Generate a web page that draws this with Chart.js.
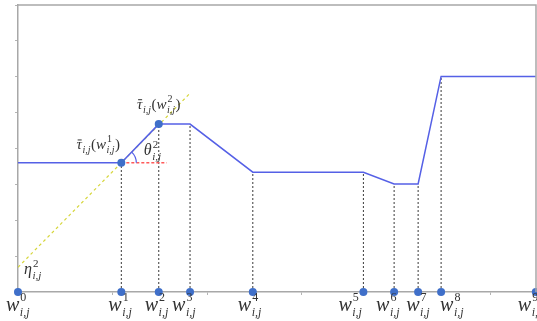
<!DOCTYPE html>
<html>
<head>
<meta charset="utf-8">
<script src="https://cdn.jsdelivr.net/npm/chart.js@4.4.0/dist/chart.umd.min.js"></script>
<style>
  html, body { margin: 0; padding: 0; background: #fff; overflow: hidden; }
  canvas { display: block; }
</style>
</head>
<body>
<canvas id="chart" width="540" height="321"></canvas>
<script>
"use strict";

// breakpoints w^0 .. w^9 along the x axis
const breakX = [0, 1.093, 1.489, 1.82, 2.484, 3.654, 3.979, 4.233, 4.476, 5.478];
// tau bar value at each breakpoint (piecewise linear)
const tauY = [3.6, 3.6, 4.68, 4.68, 3.34, 3.34, 3.01, 3.01, 6.01, 6.01];
// breakpoints that get a dashed drop line
const dropIdx = [1, 2, 3, 4, 5, 6, 7, 8];
// breakpoints marked on the curve itself
const curveIdx = [1, 2];
// yellow slope line (eta intercept at x = 0)
const slopeX = [0, 1.82];
const slopeY = [0.69, 5.54];
// red horizontal reference at w^1
const levelX = [1.093, 1.573];
const levelY = [3.6, 3.6];
// axis ranges
const xMax = 5.48;
const yMax = 8;

const serif = '"Liberation Serif", "DejaVu Serif", serif';
const blue = "#5560e6";
const dotBlue = "#3f6fc9";
// left edge of each w label relative to its marker (px), hand placed like the figure
const labelShift = [-12, -13, -14, -18, -15, -25, -18, -12, -1, -18];

function pts(xs, ys) {
  const out = [];
  for (let i = 0; i < xs.length; i++) out.push({ x: xs[i], y: ys[i] });
  return out;
}

// draws base with superscript / subscript, returns the width used
function sym(ctx, base, sup, sub, x, y, size, draw, bar, sc) {
  sc = sc || 0.66;
  ctx.font = "italic " + size + "px " + serif;
  const bw = ctx.measureText(base).width;
  if (draw) {
    ctx.fillText(base, x, y);
    if (bar) ctx.fillRect(x + bw * 0.2, y - size * 0.66, bw * 0.75, 1);
  }
  const s = Math.round(size * sc);
  let supW = 0, subW = 0;
  if (sup) {
    ctx.font = s + "px " + serif;
    supW = ctx.measureText(sup).width;
    if (draw) ctx.fillText(sup, x + bw + 1, y - size * 0.48);
  }
  if (sub) {
    ctx.font = "italic " + s + "px " + serif;
    subW = ctx.measureText(sub).width;
    if (draw) ctx.fillText(sub, x + bw + 0.5, y + size * 0.27);
  }
  return bw + Math.max(supW, subW) + 1;
}

function upright(ctx, t, x, y, size, draw) {
  ctx.font = size + "px " + serif;
  if (draw) ctx.fillText(t, x, y);
  return ctx.measureText(t).width;
}

function tauLabel(ctx, k, x, y, size, draw) {
  let cx = x;
  cx += sym(ctx, "\u03C4", null, "i,j", cx, y, size, draw, true);
  cx += upright(ctx, "(", cx, y, size, draw);
  cx += sym(ctx, "w", String(k), "i,j", cx, y, size, draw);
  cx += upright(ctx, ")", cx, y, size, draw);
  return cx - x;
}

function centered(ctx, fn, cx) {
  const w = fn(0, false);
  fn(cx - w / 2, true);
}

const mathText = {
  id: "mathText",
  afterDatasetsDraw(chart) {
    const ctx = chart.ctx;
    const xs = chart.scales.x;
    const ys = chart.scales.y;
    const area = chart.chartArea;
    ctx.save();
    // top and right frame
    ctx.strokeStyle = "#a8a8a8";
    ctx.lineWidth = 1.5;
    ctx.beginPath();
    ctx.moveTo(area.left, area.top);
    ctx.lineTo(area.right, area.top);
    ctx.lineTo(area.right, area.bottom);
    ctx.stroke();

    // angle arc at w^1
    const px = xs.getPixelForValue(breakX[1]);
    const py = ys.getPixelForValue(tauY[1]);
    const ang = Math.atan2(ys.getPixelForValue(tauY[2]) - py, xs.getPixelForValue(breakX[2]) - px);
    ctx.strokeStyle = blue;
    ctx.lineWidth = 1.2;
    ctx.beginPath();
    ctx.arc(px, py, 15, ang, 0);
    ctx.stroke();

    ctx.fillStyle = "#333333";
    ctx.textBaseline = "alphabetic";
    ctx.textAlign = "left";

    // breakpoint labels under the axis
    for (let k = 0; k < breakX.length; k++) {
      const bx = xs.getPixelForValue(breakX[k]);
      sym(ctx, "w", String(k), "i,j", bx + labelShift[k], 311, 20, true, false, 0.6);
    }

    // tau labels at w^1 and w^2
    const l1x = px - 23;
    const l1y = py - 13.5;
    centered(ctx, (x, d) => tauLabel(ctx, 1, x, l1y, 15, d), l1x);
    const l2x = xs.getPixelForValue(breakX[2]);
    const l2y = ys.getPixelForValue(tauY[2]) - 15;
    centered(ctx, (x, d) => tauLabel(ctx, 2, x, l2y, 15, d), l2x);

    // theta and eta
    sym(ctx, "\u03B8", "2", "i,j", px + 22.5, py - 7.5, 16, true);
    const ex = xs.getPixelForValue(slopeX[0]) + 6;
    const ey = ys.getPixelForValue(slopeY[0]) + 7;
    sym(ctx, "\u03B7", "2", "i,j", ex, ey, 16, true);
    ctx.restore();
  }
};

const datasets = [];
// markers on the axis
datasets.push({
  data: pts(breakX, breakX.map(() => 0)),
  showLine: false,
  pointRadius: 4,
  pointBackgroundColor: dotBlue,
  pointBorderWidth: 0,
  clip: false,
  order: 0
});
// markers on the curve
datasets.push({
  data: curveIdx.map(k => ({ x: breakX[k], y: tauY[k] })),
  showLine: false,
  pointRadius: 4,
  pointBackgroundColor: dotBlue,
  pointBorderWidth: 0,
  order: 0
});
// piecewise curve
datasets.push({
  data: pts(breakX, tauY),
  showLine: true,
  borderColor: blue,
  borderWidth: 1.5,
  pointRadius: 0,
  order: 2
});
// yellow slope
datasets.push({
  data: pts(slopeX, slopeY),
  showLine: true,
  borderColor: "#d6d63a",
  borderWidth: 1.2,
  borderDash: [3, 3],
  pointRadius: 0,
  order: 3
});
// red level
datasets.push({
  data: pts(levelX, levelY),
  showLine: true,
  borderColor: "#ff5a5a",
  borderWidth: 1.5,
  borderDash: [3, 2],
  pointRadius: 0,
  order: 3
});
// dashed drop lines
for (let i = 0; i < dropIdx.length; i++) {
  const k = dropIdx[i];
  datasets.push({
    data: [{ x: breakX[k], y: 0 }, { x: breakX[k], y: tauY[k] }],
    showLine: true,
    borderColor: "#3a3a3a",
    borderWidth: 1,
    borderDash: [2, 2],
    pointRadius: 0,
    order: 4
  });
}

const config = {
  type: "scatter",
  data: { datasets: datasets },
  options: {
    responsive: false,
    animation: false,
    devicePixelRatio: 1,
    layout: { padding: { left: 15, top: 5, right: 1, bottom: 26 } },
    plugins: { legend: { display: false }, tooltip: { enabled: false } },
    scales: {
      x: {
        type: "linear",
        min: 0,
        max: xMax,
        ticks: { display: false, stepSize: 1 },
        grid: { drawOnChartArea: false, tickLength: 3, color: "#b4b4b4" },
        border: { color: "#a8a8a8", width: 1.5 }
      },
      y: {
        type: "linear",
        min: 0,
        max: yMax,
        ticks: { display: false, stepSize: 1 },
        grid: { drawOnChartArea: false, tickLength: 3, color: "#b4b4b4" },
        border: { color: "#a8a8a8", width: 1.5 }
      }
    }
  },
  plugins: [mathText]
};

const myChart = new Chart(document.getElementById("chart"), config);
</script>
</body>
</html>
